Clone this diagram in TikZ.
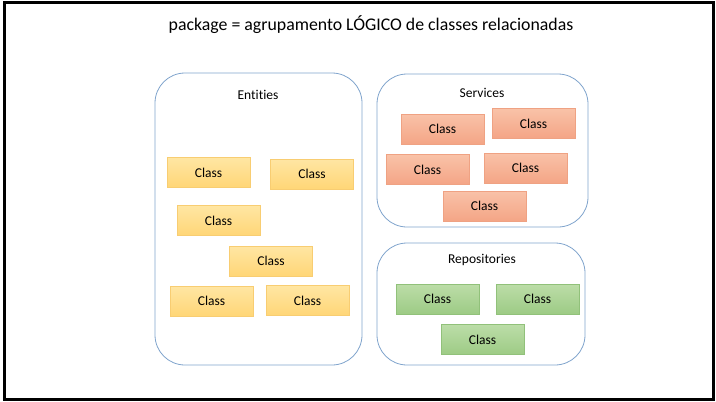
\documentclass[tikz,border=0pt]{standalone}
\usepackage{fontspec}
\setmainfont[Ligatures=NoCommon]{Carlito}
\definecolor{frameblue}{HTML}{7FA3CC}
\definecolor{ytop}{HTML}{FFE6A3}
\definecolor{ybot}{HTML}{FFD677}
\definecolor{yline}{HTML}{F8CD72}
\definecolor{stop}{HTML}{F9C2A8}
\definecolor{sbot}{HTML}{F4A586}
\definecolor{sline}{HTML}{EFA283}
\definecolor{gtop}{HTML}{BCDDA8}
\definecolor{gbot}{HTML}{9DCB85}
\definecolor{gline}{HTML}{91C17A}
\begin{document}
\begin{tikzpicture}[x=1pt,y=-1pt,
  pkg/.style={draw=frameblue, line width=0.8pt, rounded corners=30pt},
  cls/.style={minimum width=83pt, minimum height=30pt, inner sep=0pt, font=\fontsize{13.5}{15}\selectfont, line width=0.6pt},
  ent/.style={cls, draw=yline, top color=ytop, bottom color=ybot},
  srv/.style={cls, draw=sline, top color=stop, bottom color=sbot},
  rep/.style={cls, draw=gline, top color=gtop, bottom color=gbot},
  lbl/.style={font=\fontsize{13.5}{15}\selectfont, inner sep=0pt}]
\useasboundingbox (0,0) rectangle (716,402);
\draw[line width=3pt] (4.5,2.5) rectangle (713,399.5);
\node[font=\fontsize{17.8}{20}\selectfont, inner sep=0pt] (title) at (371,25) {package = agrupamento LÓGICO de classes relacionadas};
% Entities
\draw[pkg] (155,73) rectangle (362,365);
\node[lbl] (entl) at (258,95) {Entities};
\node[ent] (e1) at (208.5,172.5) {Class};
\node[ent] (e2) at (312,174) {Class};
\node[ent] (e3) at (218.5,220.5) {Class};
\node[ent] (e4) at (271,261) {Class};
\node[ent] (e5) at (211.5,301) {Class};
\node[ent] (e6) at (307.5,300.5) {Class};
% Services
\draw[pkg] (377,74) rectangle (588,227);
\node[lbl] (srvl) at (482,93) {Services};
\node[srv] (s1) at (442.5,129) {Class};
\node[srv] (s2) at (533.5,123.5) {Class};
\node[srv] (s3) at (427.5,169.5) {Class};
\node[srv] (s4) at (525.5,168) {Class};
\node[srv] (s5) at (484.5,206) {Class};
% Repositories
\draw[pkg] (377,243) rectangle (585,365);
\node[lbl] (repl) at (482,260) {Repositories};
\node[rep] (r1) at (437.5,299) {Class};
\node[rep] (r2) at (537.5,299) {Class};
\node[rep] (r3) at (482.5,339.5) {Class};
\end{tikzpicture}
\end{document}
